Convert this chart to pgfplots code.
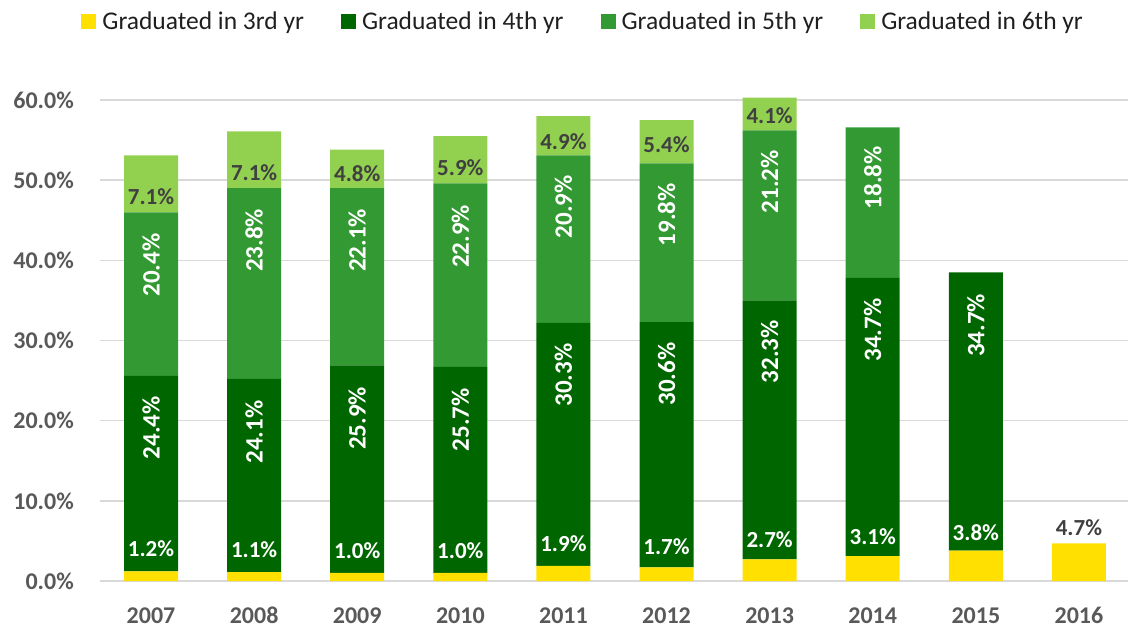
\documentclass[border=0pt]{standalone}
\usepackage{fontspec}
\setmainfont{Carlito}
\usepackage{pgfplots}
\pgfplotsset{compat=1.18}
\definecolor{cthree}{HTML}{FFE000}
\definecolor{cfour}{HTML}{006600}
\definecolor{cfive}{HTML}{339933}
\definecolor{csix}{HTML}{92D050}
\definecolor{ticktext}{HTML}{595959}
\definecolor{labtext}{HTML}{404040}
\definecolor{gridc}{HTML}{D9D9D9}
\begin{document}
\begin{tikzpicture}
\path[use as bounding box] (-100bp,-47bp) rectangle (1028bp,581bp);
\pgfplotsset{base/.style={at={(0bp,0bp)}, anchor=south west, scale only axis,
  width=1028bp, height=497bp, xmin=-0.495, xmax=9.476, ymin=0, ymax=62, clip=false}}
\begin{axis}[base, ybar stacked, bar width=54bp,
  axis line style={draw=none}, major tick length=0pt,
  ymajorgrids, grid style={color=gridc, line width=1.5bp},
  ytick={0,10,20,30,40,50,60},
  yticklabels={0.0\%,10.0\%,20.0\%,30.0\%,40.0\%,50.0\%,60.0\%},
  xtick={0,1,2,3,4,5,6,7,8,9},
  xticklabels={2007,2008,2009,2010,2011,2012,2013,2014,2015,2016},
  ticklabel style={font=\fontsize{24bp}{28bp}\selectfont\bfseries, text=ticktext, inner sep=0pt},
  yticklabel style={anchor=east, xshift=-26bp},
  xticklabel style={anchor=base, yshift=-42bp},
  legend columns=4,
  legend style={at={(0.470,1.126)}, anchor=center, draw=none, fill=none,
    font=\fontsize{25.5bp}{30bp}\selectfont, text=black!88,
    /tikz/every odd column/.append style={column sep=4bp},
    /tikz/every even column/.append style={column sep=35bp}},
  legend image code/.code={\fill[#1] (0bp,-7.5bp) rectangle (15bp,7.5bp);},
]
\addplot[fill=cthree, draw=none] coordinates {(0,1.2) (1,1.1) (2,1.0) (3,1.0) (4,1.9) (5,1.7) (6,2.7) (7,3.1) (8,3.8) (9,4.7)};
\addplot[fill=cfour, draw=none] coordinates {(0,24.4) (1,24.1) (2,25.9) (3,25.7) (4,30.3) (5,30.6) (6,32.3) (7,34.7) (8,34.7) (9,0)};
\addplot[fill=cfive, draw=none] coordinates {(0,20.4) (1,23.8) (2,22.1) (3,22.9) (4,20.9) (5,19.8) (6,21.2) (7,18.8) (8,0) (9,0)};
\addplot[fill=csix, draw=none] coordinates {(0,7.1) (1,7.1) (2,4.8) (3,5.9) (4,4.9) (5,5.4) (6,4.1) (7,0) (8,0) (9,0)};
\legend{Graduated in 3rd yr, Graduated in 4th yr, Graduated in 5th yr, Graduated in 6th yr}
\end{axis}
\begin{axis}[base, hide axis,
  nodes near coords={\pgfmathprintnumber[fixed,fixed zerofill,precision=1,assume math mode=true]{\pgfplotspointmeta}\%},
  nodes near coords align=center, point meta=explicit]
\addplot[draw=none, mark=none, every node near coord/.append style={rotate=90, anchor=center, text=white, font=\fontsize{25bp}{29bp}\selectfont\bfseries}]
 table[meta=v] {
x y v
0 19.1 24.4
1 18.6 24.1
2 20.3 25.9
3 20.1 25.7
4 25.7 30.3
5 25.8 30.6
6 28.6 32.3
7 31.3 34.7
8 31.9 34.7
};
\addplot[draw=none, mark=none, every node near coord/.append style={rotate=90, anchor=center, text=white, font=\fontsize{25bp}{29bp}\selectfont\bfseries}]
 table[meta=v] {
x y v
0 39.4 20.4
1 42.5 23.8
2 42.5 22.1
3 43.0 22.9
4 46.7 20.9
5 45.7 19.8
6 49.8 21.2
7 50.3 18.8
};
\addplot[draw=none, mark=none, every node near coord/.append style={anchor=center, text=labtext, font=\fontsize{23bp}{27bp}\selectfont\bfseries}]
 table[meta=v] {
x y v
0 48.0 7.1
1 50.9 7.1
2 50.8 4.8
3 51.6 5.9
4 54.8 4.9
5 54.4 5.4
6 58.1 4.1
};
\addplot[draw=none, mark=none, every node near coord/.append style={anchor=center, text=white, font=\fontsize{23bp}{27bp}\selectfont\bfseries}]
 table[meta=v] {
x y v
0 4.0 1.2
1 3.9 1.1
2 3.8 1.0
3 3.8 1.0
4 4.7 1.9
5 4.3 1.7
6 5.1 2.7
7 5.5 3.1
8 6.0 3.8
};
\addplot[draw=none, mark=none, every node near coord/.append style={anchor=center, text=labtext, font=\fontsize{23bp}{27bp}\selectfont\bfseries}]
 table[meta=v] {
x y v
9 6.7 4.7
};
\end{axis}
\end{tikzpicture}
\end{document}
